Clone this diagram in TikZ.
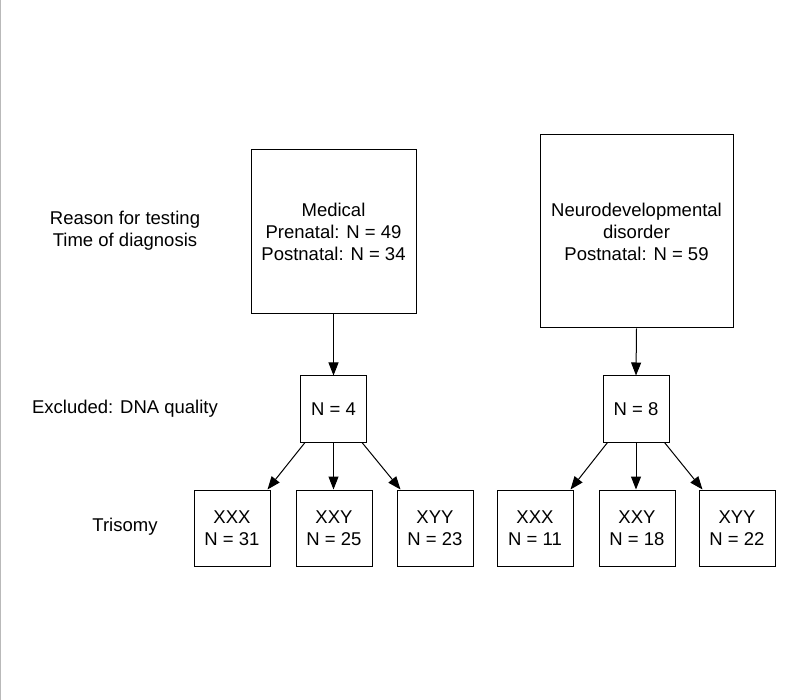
\documentclass[tikz,border=0pt]{standalone}
\usepackage{fontspec}
\setmainfont{Liberation Sans}
\usetikzlibrary{arrows.meta}
\begin{document}
\begin{tikzpicture}[x=1pt, y=-1pt,
  every node/.style={font=\fontsize{18.5}{22}\selectfont, align=center},
  box/.style={draw=black, line width=1pt, inner sep=0pt},
  arr/.style={line width=1pt, -{Triangle[length=13pt, width=10pt]}}]

\useasboundingbox (0,0) rectangle (795,700);
\draw[gray!55, line width=1.2pt] (0.6,0) -- (0.6,700);

% left labels
\node (reason) at (125,231) {Reason for testing\\Time of diagnosis};
\node (excl) at (125,409) {Excluded: DNA quality};
\node (tris) at (125,527) {Trisomy};

% top boxes
\node[box, minimum width=165pt, minimum height=164pt] (med) at (333.5,232) {Medical\\Prenatal: N = 49\\Postnatal: N = 34};
\node[box, minimum width=193pt, minimum height=193pt] (neuro) at (636.5,231.5) {Neurodevelopmental\\disorder\\Postnatal: N = 59};

% excluded
\node[box, minimum size=66pt] (exmed) at (333.5,409) {N = 4};
\node[box, minimum size=66pt] (exneuro) at (636,409) {N = 8};

% trisomy boxes
\node[box, minimum size=76pt] (medxxx) at (232,528) {XXX\\N = 31};
\node[box, minimum size=76pt] (medxxy) at (334,528) {XXY\\N = 25};
\node[box, minimum size=76pt] (medxyy) at (435,528) {XYY\\N = 23};
\node[box, minimum size=76pt] (neuxxx) at (535,528) {XXX\\N = 11};
\node[box, minimum size=76pt] (neuxxy) at (637,528) {XXY\\N = 18};
\node[box, minimum size=76pt] (neuxyy) at (737,528) {XYY\\N = 22};

\draw[arr] (med.south) -- (exmed.north);
\draw[arr] (neuro.south) -- (exneuro.north);

\draw[arr] ([xshift=5pt]exmed.south west) -- ([xshift=-3pt]medxxx.north east);
\draw[arr] (exmed.south) -- (medxxy.north -| exmed.south);
\draw[arr] ([xshift=-5pt]exmed.south east) -- ([xshift=4pt]medxyy.north west);

\draw[arr] ([xshift=5pt]exneuro.south west) -- ([xshift=-3pt]neuxxx.north east);
\draw[arr] (exneuro.south) -- (neuxxy.north -| exneuro.south);
\draw[arr] ([xshift=-5pt]exneuro.south east) -- ([xshift=4pt]neuxyy.north west);
\end{tikzpicture}
\end{document}
